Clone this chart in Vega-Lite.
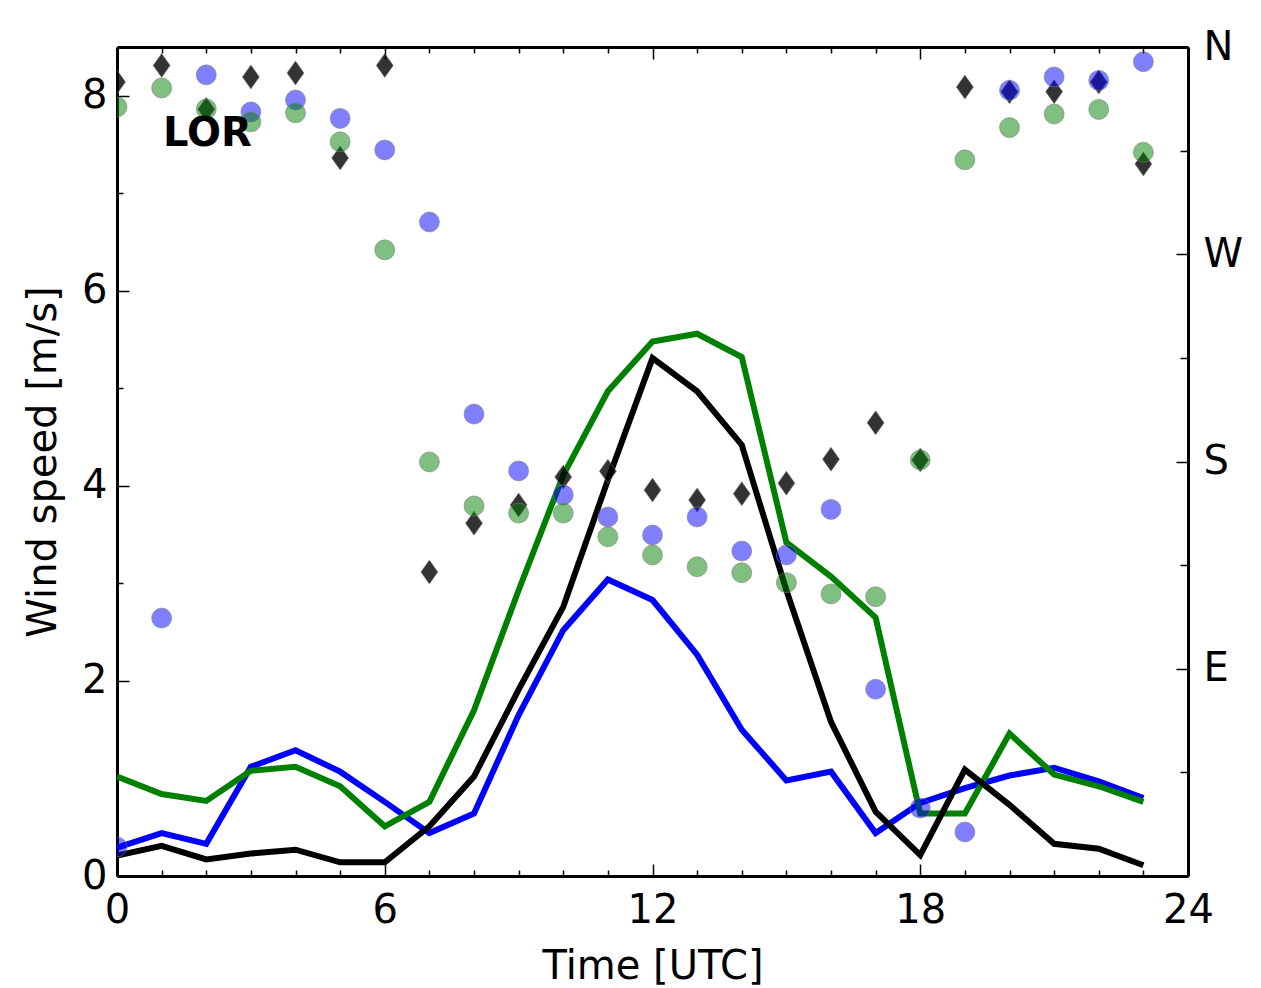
{
  "$schema": "https://vega.github.io/schema/vega-lite/v6.json",
  "autosize": {"type": "none"},
  "width": 1071,
  "height": 829,
  "padding": {"left": 117, "top": 47, "right": 73, "bottom": 112},
  "background": "#ffffff",
  "config": {
    "view": {"stroke": null},
    "font": "DejaVu Sans",
    "axis": {
      "grid": false,
      "domainColor": "#000000",
      "domainWidth": 3,
      "tickColor": "#000000",
      "tickWidth": 1.5,
      "labelColor": "#000000",
      "labelFont": "DejaVu Sans",
      "labelFontSize": 40,
      "labelOverlap": false,
      "labelBound": false,
      "titleFont": "DejaVu Sans",
      "titleFontSize": 40,
      "titleFontWeight": "normal",
      "titleColor": "#000000"
    }
  },
  "data": {
    "values": [
      {"hour": 0, "src": "Simulation 1", "speed": 0.29, "dir": 12.6},
      {"hour": 1, "src": "Simulation 1", "speed": 0.44, "dir": 112},
      {"hour": 2, "src": "Simulation 1", "speed": 0.33, "dir": 347.9},
      {"hour": 3, "src": "Simulation 1", "speed": 1.12, "dir": 331.8},
      {"hour": 4, "src": "Simulation 1", "speed": 1.29, "dir": 337},
      {"hour": 5, "src": "Simulation 1", "speed": 1.07, "dir": 329},
      {"hour": 6, "src": "Simulation 1", "speed": 0.76, "dir": 315.3},
      {"hour": 7, "src": "Simulation 1", "speed": 0.44, "dir": 284},
      {"hour": 8, "src": "Simulation 1", "speed": 0.64, "dir": 200.6},
      {"hour": 9, "src": "Simulation 1", "speed": 1.65, "dir": 175.9},
      {"hour": 10, "src": "Simulation 1", "speed": 2.52, "dir": 165.5},
      {"hour": 11, "src": "Simulation 1", "speed": 3.04, "dir": 155.9},
      {"hour": 12, "src": "Simulation 1", "speed": 2.83, "dir": 148.1},
      {"hour": 13, "src": "Simulation 1", "speed": 2.27, "dir": 155.9},
      {"hour": 14, "src": "Simulation 1", "speed": 1.5, "dir": 141.1},
      {"hour": 15, "src": "Simulation 1", "speed": 0.98, "dir": 139.4},
      {"hour": 16, "src": "Simulation 1", "speed": 1.07, "dir": 159.2},
      {"hour": 17, "src": "Simulation 1", "speed": 0.44, "dir": 81.1},
      {"hour": 18, "src": "Simulation 1", "speed": 0.75, "dir": 29.5},
      {"hour": 19, "src": "Simulation 1", "speed": 0.9, "dir": 19.1},
      {"hour": 20, "src": "Simulation 1", "speed": 1.03, "dir": 341.2},
      {"hour": 21, "src": "Simulation 1", "speed": 1.11, "dir": 347},
      {"hour": 22, "src": "Simulation 1", "speed": 0.97, "dir": 345.5},
      {"hour": 23, "src": "Simulation 1", "speed": 0.8, "dir": 353.6},
      {"hour": 0, "src": "Simulation 2", "speed": 1.02, "dir": 334},
      {"hour": 1, "src": "Simulation 2", "speed": 0.84, "dir": 342.2},
      {"hour": 2, "src": "Simulation 2", "speed": 0.77, "dir": 333.1},
      {"hour": 3, "src": "Simulation 2", "speed": 1.08, "dir": 327.5},
      {"hour": 4, "src": "Simulation 2", "speed": 1.12, "dir": 331.4},
      {"hour": 5, "src": "Simulation 2", "speed": 0.92, "dir": 318.8},
      {"hour": 6, "src": "Simulation 2", "speed": 0.51, "dir": 271.9},
      {"hour": 7, "src": "Simulation 2", "speed": 0.76, "dir": 179.8},
      {"hour": 8, "src": "Simulation 2", "speed": 1.7, "dir": 160.7},
      {"hour": 9, "src": "Simulation 2", "speed": 2.93, "dir": 157.6},
      {"hour": 10, "src": "Simulation 2", "speed": 4.11, "dir": 157.6},
      {"hour": 11, "src": "Simulation 2", "speed": 4.97, "dir": 147.3},
      {"hour": 12, "src": "Simulation 2", "speed": 5.48, "dir": 139.4},
      {"hour": 13, "src": "Simulation 2", "speed": 5.56, "dir": 134.3},
      {"hour": 14, "src": "Simulation 2", "speed": 5.32, "dir": 131.7},
      {"hour": 15, "src": "Simulation 2", "speed": 3.42, "dir": 127.4},
      {"hour": 16, "src": "Simulation 2", "speed": 3.07, "dir": 122.5},
      {"hour": 17, "src": "Simulation 2", "speed": 2.65, "dir": 121.3},
      {"hour": 18, "src": "Simulation 2", "speed": 0.64, "dir": 180.7},
      {"hour": 19, "src": "Simulation 2", "speed": 0.64, "dir": 311},
      {"hour": 20, "src": "Simulation 2", "speed": 1.46, "dir": 325},
      {"hour": 21, "src": "Simulation 2", "speed": 1.04, "dir": 330.9},
      {"hour": 22, "src": "Simulation 2", "speed": 0.92, "dir": 332.9},
      {"hour": 23, "src": "Simulation 2", "speed": 0.76, "dir": 314.3},
      {"hour": 0, "src": "Observed", "speed": 0.21, "dir": 344.8},
      {"hour": 1, "src": "Observed", "speed": 0.31, "dir": 352},
      {"hour": 2, "src": "Observed", "speed": 0.17, "dir": 333},
      {"hour": 3, "src": "Observed", "speed": 0.23, "dir": 347},
      {"hour": 4, "src": "Observed", "speed": 0.27, "dir": 348.7},
      {"hour": 5, "src": "Observed", "speed": 0.14, "dir": 311.8},
      {"hour": 6, "src": "Observed", "speed": 0.14, "dir": 352},
      {"hour": 7, "src": "Observed", "speed": 0.51, "dir": 132},
      {"hour": 8, "src": "Observed", "speed": 1.02, "dir": 153.2},
      {"hour": 9, "src": "Observed", "speed": 1.91, "dir": 161.1},
      {"hour": 10, "src": "Observed", "speed": 2.76, "dir": 173.3},
      {"hour": 11, "src": "Observed", "speed": 4.06, "dir": 175.8},
      {"hour": 12, "src": "Observed", "speed": 5.31, "dir": 167.6},
      {"hour": 13, "src": "Observed", "speed": 4.97, "dir": 163.3},
      {"hour": 14, "src": "Observed", "speed": 4.42, "dir": 166},
      {"hour": 15, "src": "Observed", "speed": 2.93, "dir": 170.6},
      {"hour": 16, "src": "Observed", "speed": 1.58, "dir": 181},
      {"hour": 17, "src": "Observed", "speed": 0.66, "dir": 196.8},
      {"hour": 18, "src": "Observed", "speed": 0.215, "dir": 180.7},
      {"hour": 19, "src": "Observed", "speed": 1.09, "dir": 342.6},
      {"hour": 20, "src": "Observed", "speed": 0.73, "dir": 340.6},
      {"hour": 21, "src": "Observed", "speed": 0.33, "dir": 340.6},
      {"hour": 22, "src": "Observed", "speed": 0.28, "dir": 344.8},
      {"hour": 23, "src": "Observed", "speed": 0.11, "dir": 309.2}
    ]
  },
  "layer": [
    {
      "mark": {"type": "line", "strokeWidth": 6, "strokeJoin": "miter", "clip": true},
      "encoding": {
        "x": {
          "field": "hour", "type": "quantitative",
          "scale": {"domain": [0, 24], "nice": false, "zero": false},
          "axis": {
            "orient": "bottom",
            "values": [0,1,2,3,4,5,6,7,8,9,10,11,12,13,14,15,16,17,18,19,20,21,22,23,24],
            "labelExpr": "datum.value % 6 === 0 ? datum.label : ''",
            "tickSize": {"condition": {"test": "datum.value % 6 === 0", "value": -12}, "value": -6},
            "labelPadding": 26,
            "labelFlush": false,
            "title": "Time [UTC]",
            "titlePadding": 10
          }
        },
        "y": {
          "field": "speed", "type": "quantitative",
          "scale": {"domain": [0, 8.5], "nice": false},
          "axis": {
            "orient": "left",
            "values": [0,1,2,3,4,5,6,7,8],
            "labelExpr": "datum.value % 2 === 0 ? datum.label : ''",
            "tickSize": {"condition": {"test": "datum.value % 2 === 0", "value": -12}, "value": -6},
            "labelPadding": 22,
            "title": "Wind speed [m/s]",
            "titlePadding": 18
          }
        },
        "color": {
          "field": "src", "type": "nominal",
          "scale": {"domain": ["Observed", "Simulation 1", "Simulation 2"], "range": ["#000000", "#0000ff", "#008000"]},
          "legend": null
        }
      }
    },
    {
      "mark": {"type": "point", "filled": true, "clip": true, "opacity": 1, "size": 400, "stroke": "#808080", "strokeWidth": 1, "strokeOpacity": 0.6},
      "encoding": {
        "x": {"field": "hour", "type": "quantitative", "scale": {"domain": [0, 24], "nice": false, "zero": false}, "axis": null},
        "y": {
          "field": "dir", "type": "quantitative",
          "scale": {"domain": [0, 360], "nice": false},
          "axis": {
            "orient": "right",
            "values": [0,45,90,135,180,225,270,315,360],
            "labelExpr": "datum.value === 90 ? 'E' : datum.value === 180 ? 'S' : datum.value === 270 ? 'W' : datum.value === 360 ? 'N' : ''",
            "tickSize": {"condition": {"test": "datum.value % 90 === 0", "value": -12}, "value": -8},
            "labelPadding": 27,
            "title": null
          }
        },
        "fill": {
          "field": "src", "type": "nominal",
          "scale": {"domain": ["Observed", "Simulation 1", "Simulation 2"], "range": ["rgba(0,0,0,0.8)", "rgba(0,0,255,0.5)", "rgba(0,128,0,0.5)"]},
          "legend": null
        },
        "shape": {
          "field": "src", "type": "nominal",
          "scale": {"domain": ["Observed", "Simulation 1", "Simulation 2"], "range": ["M0,-1.2L0.85,0L0,1.2L-0.85,0Z", "circle", "circle"]},
          "legend": null
        },
        "order": {"field": "src", "sort": "ascending"}
      }
    },
    {
      "data": {"values": [{"label": "LOR", "hour": 1.03, "speed": 7.48}]},
      "mark": {"type": "text", "align": "left", "baseline": "alphabetic", "font": "DejaVu Sans", "fontWeight": "bold", "fontSize": 40, "color": "#000000"},
      "encoding": {
        "x": {
          "field": "hour", "type": "quantitative",
          "scale": {"domain": [0, 24], "nice": false, "zero": false},
          "axis": {
            "orient": "top",
            "values": [0,1,2,3,4,5,6,7,8,9,10,11,12,13,14,15,16,17,18,19,20,21,22,23,24],
            "labels": false,
            "tickSize": {"condition": {"test": "datum.value % 6 === 0", "value": -12}, "value": -6},
            "title": null
          }
        },
        "y": {"field": "speed", "type": "quantitative", "scale": {"domain": [0, 8.5], "nice": false}, "axis": null},
        "text": {"field": "label"}
      }
    }
  ],
  "resolve": {
    "scale": {"y": "independent"},
    "axis": {"x": "independent", "y": "independent"}
  }
}
